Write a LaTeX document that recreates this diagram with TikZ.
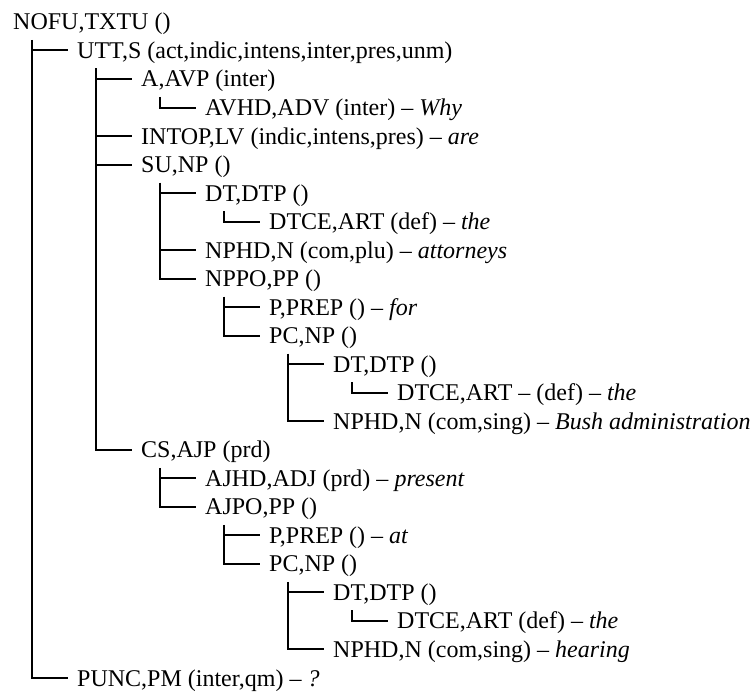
\documentclass[tikz,border=0pt]{standalone}
\usepackage{fontspec}
\setmainfont{Liberation Serif}
\begin{document}
\begin{tikzpicture}[x=1pt,y=-1pt,
  lbl/.style={inner sep=0pt,anchor=base west,font=\fontsize{24}{28}\selectfont},
  br/.style={line width=2pt,line cap=butt,line join=miter}]
\useasboundingbox (0,0) rectangle (750,693);
\node[lbl] (n0)  at (13,30)    {NOFU,TXTU ()};
\node[lbl] (n1)  at (77,58.5)  {UTT,S (act,indic,intens,inter,pres,unm)};
\node[lbl] (n2)  at (141,87)   {A,AVP (inter)};
\node[lbl] (n3)  at (205,115.6){AVHD,ADV (inter) – \textit{Why}};
\node[lbl] (n4)  at (141,144.1){INTOP,LV (indic,intens,pres) – \textit{are}};
\node[lbl] (n5)  at (141,172.6){SU,NP ()};
\node[lbl] (n6)  at (205,201.1){DT,DTP ()};
\node[lbl] (n7)  at (269,229.6){DTCE,ART (def) – \textit{the}};
\node[lbl] (n8)  at (205,258.2){NPHD,N (com,plu) – \textit{attorneys}};
\node[lbl] (n9)  at (205,286.7){NPPO,PP ()};
\node[lbl] (n10) at (269,315.2){P,PREP () – \textit{for}};
\node[lbl] (n11) at (269,343.7){PC,NP ()};
\node[lbl] (n12) at (333,372.2){DT,DTP ()};
\node[lbl] (n13) at (397,400.8){DTCE,ART – (def) – \textit{the}};
\node[lbl] (n14) at (333,429.3){NPHD,N (com,sing) – \textit{Bush administration}};
\node[lbl] (n15) at (141,457.8){CS,AJP (prd)};
\node[lbl] (n16) at (205,486.3){AJHD,ADJ (prd) – \textit{present}};
\node[lbl] (n17) at (205,514.8){AJPO,PP ()};
\node[lbl] (n18) at (269,543.4){P,PREP () – \textit{at}};
\node[lbl] (n19) at (269,571.9){PC,NP ()};
\node[lbl] (n20) at (333,600.4){DT,DTP ()};
\node[lbl] (n21) at (397,628.9){DTCE,ART (def) – \textit{the}};
\node[lbl] (n22) at (333,657.4){NPHD,N (com,sing) – \textit{hearing}};
\node[lbl] (n23) at (77,686)   {PUNC,PM (inter,qm) – \textit{?}};
% joints
\foreach \k in {1,...,23} {\coordinate (j\k) at ([shift={(-9,-8)}]n\k.base west);}
\foreach \p in {0,1,2,5,6,9,11,12,15,17,19,20} {\coordinate (t\p) at ([shift={(19,10)}]n\p.base west);}
% connectors
\draw[br] (t0) |- (j23);  \draw[br] (t0 |- j1) -- (j1);
\draw[br] (t1) |- (j15);  \foreach \c in {2,4,5} {\draw[br] (t1 |- j\c) -- (j\c);}
\draw[br] (t2) |- (j3);
\draw[br] (t5) |- (j9);   \foreach \c in {6,8} {\draw[br] (t5 |- j\c) -- (j\c);}
\draw[br] (t6) |- (j7);
\draw[br] (t9) |- (j11);  \draw[br] (t9 |- j10) -- (j10);
\draw[br] (t11) |- (j14); \draw[br] (t11 |- j12) -- (j12);
\draw[br] (t12) |- (j13);
\draw[br] (t15) |- (j17); \draw[br] (t15 |- j16) -- (j16);
\draw[br] (t17) |- (j19); \draw[br] (t17 |- j18) -- (j18);
\draw[br] (t19) |- (j22); \draw[br] (t19 |- j20) -- (j20);
\draw[br] (t20) |- (j21);
\end{tikzpicture}
\end{document}
